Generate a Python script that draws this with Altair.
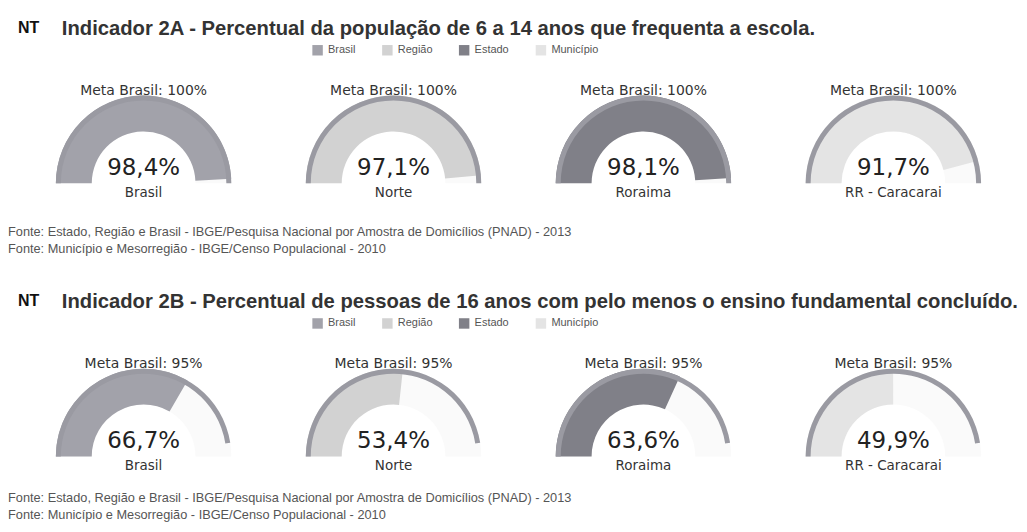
import altair as alt
import pandas as pd

TITLES = [
    "Indicador 2A - Percentual da população de 6 a 14 anos que frequenta a escola.",
    "Indicador 2B - Percentual de pessoas de 16 anos com pelo menos o ensino fundamental concluído.",
]
LEVELS = ["Brasil", "Região", "Estado", "Município"]
PLACES = ["Brasil", "Norte", "Roraima", "RR - Caracarai"]
VALUES_2A = [98.4, 97.1, 98.1, 91.7]
VALUES_2B = [66.7, 53.4, 63.6, 49.9]
META = [100, 95]
FONTE = [
    "Fonte: Estado, Região e Brasil - IBGE/Pesquisa Nacional por Amostra de Domicílios (PNAD) - 2013",
    "Fonte: Município e Mesorregião - IBGE/Censo Populacional - 2010",
]
COLORS = ["#a2a2aa", "#d2d2d2", "#808088", "#e4e4e4"]
RIM = "#9a9aa2"

W = 1011
R_OUT, R_IN, RIM_W = 88, 52, 5
GAUGE_FONT = "DejaVu Sans"
TEXT_FONT = "Liberation Sans"


def section(title, values, meta, height, fonte_y):
    df = pd.DataFrame({"place": PLACES, "level": LEVELS, "value": values, "meta": [meta] * 4})
    base = alt.Chart(df).transform_calculate(
        zero="0",
        full="100",
        label="replace(format(datum.value, '.1f'), '.', ',') + '%'",
        meta_label="'Meta Brasil: ' + datum.meta + '%'",
    )
    xpos = alt.X("place:N", scale=alt.Scale(domain=PLACES, range=[136, 888], padding=0), axis=None)
    th = alt.Scale(domain=[0, 100], range=[4.712389, 7.853982], nice=False, zero=False)
    cy = alt.value(175)

    bg = base.mark_arc(innerRadius=R_IN, outerRadius=R_OUT, color="#fafafa").encode(
        x=xpos, y=cy,
        theta=alt.Theta("zero:Q", scale=th, stack=None), theta2=alt.Theta2("full:Q"))
    band = base.mark_arc(innerRadius=R_IN, outerRadius=R_OUT).encode(
        x=xpos, y=cy,
        theta=alt.Theta("zero:Q", scale=th, stack=None), theta2=alt.Theta2("value:Q"),
        color=alt.Color("level:N", scale=alt.Scale(domain=LEVELS, range=COLORS),
                        legend=alt.Legend(orient="none", legendX=305, legendY=36,
                                          direction="horizontal", title=None,
                                          symbolType="square", symbolSize=110,
                                          symbolStrokeWidth=0, labelFontSize=11,
                                          labelFont=TEXT_FONT, labelColor="#555",
                                          labelOffset=5, columnPadding=26)))
    rim = base.mark_arc(innerRadius=R_OUT - RIM_W, outerRadius=R_OUT, color=RIM).encode(
        x=xpos, y=cy,
        theta=alt.Theta("zero:Q", scale=th, stack=None), theta2=alt.Theta2("meta:Q"))
    meta_t = base.mark_text(font=GAUGE_FONT, fontSize=14, color="#333").encode(
        x=xpos, y=alt.value(82), text="meta_label:N")
    val_t = base.mark_text(font=GAUGE_FONT, fontSize=23, color="#222").encode(
        x=xpos, y=alt.value(160), text="label:N")
    name_t = base.mark_text(font=GAUGE_FONT, fontSize=13.5, color="#333").encode(
        x=xpos, y=alt.value(185), text="place:N")

    tdf = pd.DataFrame({"t": [title]})
    nt = alt.Chart(tdf).mark_text(text="NT", align="left", font=TEXT_FONT, fontSize=16,
                                  fontWeight="bold", color="#111").encode(
        x=alt.value(10), y=alt.value(19))
    tt = alt.Chart(tdf).mark_text(align="left", font=TEXT_FONT, fontSize=20.3,
                                  fontWeight="bold", color="#333").encode(
        x=alt.value(54), y=alt.value(20), text="t:N")
    fdf = pd.DataFrame({"t": ["\n".join(FONTE)]})
    ft = alt.Chart(fdf).mark_text(align="left", baseline="top", lineBreak="\n",
                                  lineHeight=17, font=TEXT_FONT, fontSize=12.8,
                                  color="#555").encode(
        x=alt.value(0), y=alt.value(fonte_y), text="t:N")

    return alt.layer(bg, band, rim, meta_t, val_t, name_t, nt, tt, ft).properties(
        width=W, height=height)


s1 = section(TITLES[0], VALUES_2A, META[0], 274, 218)
s2 = section(TITLES[1], VALUES_2B, META[1], 242, 211)

chart = alt.vconcat(s1, s2, spacing=0).resolve_scale(
    color="independent", theta="independent", x="independent"
).properties(padding=0, background="white").configure_view(
    stroke=None, strokeWidth=0
)

chart.save("out.html", embed_options={"renderer": "svg", "actions": False})
